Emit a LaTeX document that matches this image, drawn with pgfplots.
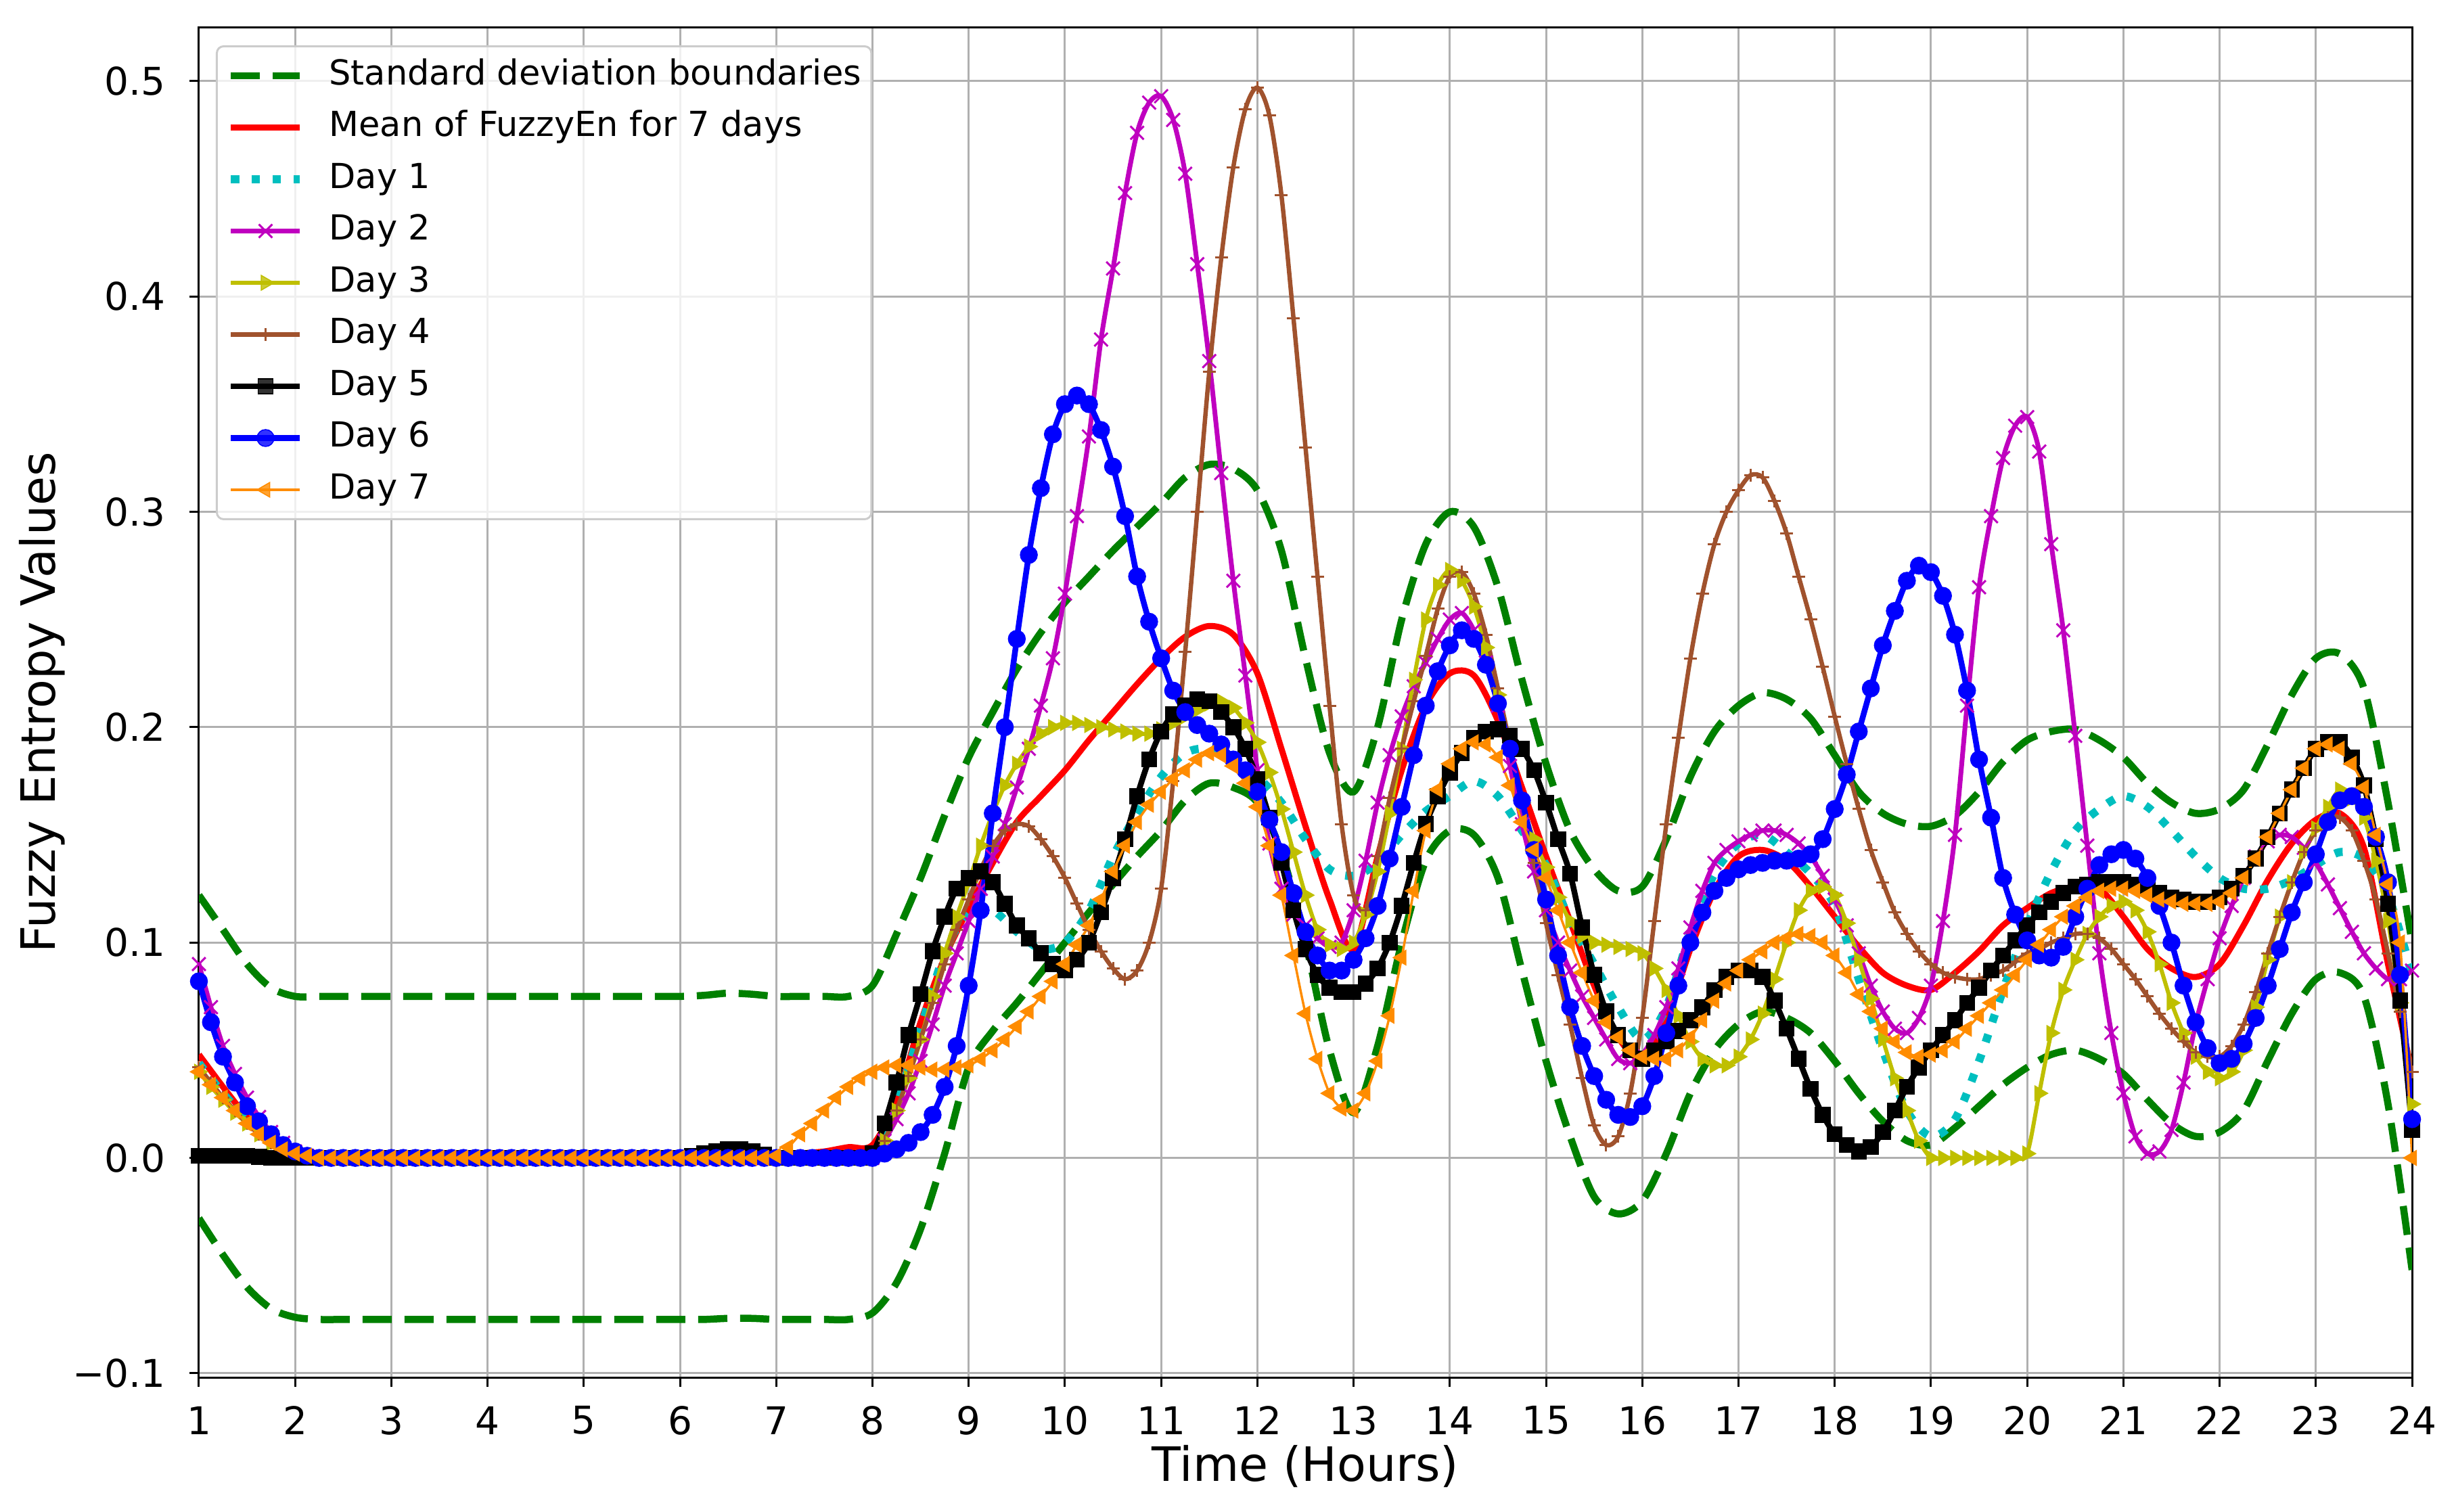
\documentclass[border=0pt]{standalone}
\usepackage{fontspec}
\setmainfont{DejaVu Sans}
\usepackage{pgfplots}
\pgfplotsset{compat=1.18}
\usepackage{pgfplotstable}
\definecolor{mplgreen}{rgb}{0,0.5,0}
\definecolor{mplcyan}{rgb}{0,0.75,0.75}
\definecolor{mplmag}{rgb}{0.75,0,0.75}
\definecolor{mplyel}{rgb}{0.75,0.75,0}
\definecolor{sienna}{HTML}{A0522D}
\definecolor{dkorange}{HTML}{FF8C00}
\definecolor{gridgray}{HTML}{B0B0B0}
\definecolor{leggray}{HTML}{CCCCCC}
% line-only series: std boundaries, mean, Day 1
\pgfplotstableread{
h up lo mean d1
1.00 0.122 -0.028 0.048 0.044
1.25 0.106 -0.045 0.033 0.030
1.50 0.090 -0.060 0.019 0.018
1.75 0.079 -0.070 0.008 0.008
2.00 0.075 -0.074 0.002 0.002
2.25 0.075 -0.075 0 0
2.50 0.075 -0.075 0 0
2.75 0.075 -0.075 0 0
3.00 0.075 -0.075 0 0
3.25 0.075 -0.075 0 0
3.50 0.075 -0.075 0 0
3.75 0.075 -0.075 0 0
4.00 0.075 -0.075 0 0
4.25 0.075 -0.075 0 0
4.50 0.075 -0.075 0 0
4.75 0.075 -0.075 0 0
5.00 0.075 -0.075 0 0
5.25 0.075 -0.075 0 0
5.50 0.075 -0.075 0 0
5.75 0.075 -0.075 0 0
6.00 0.075 -0.075 0 0
6.25 0.0755 -0.075 0.0003 0
6.50 0.0765 -0.0745 0.0006 0
6.75 0.076 -0.0745 0.0005 0
7.00 0.075 -0.075 0.0002 0
7.25 0.075 -0.075 0.002 0
7.50 0.075 -0.075 0.003 0
7.75 0.075 -0.075 0.005 0
8.00 0.080 -0.072 0.006 0.002
8.25 0.104 -0.058 0.027 0.025
8.50 0.130 -0.033 0.063 0.060
8.75 0.159 0.002 0.093 0.095
9.00 0.186 0.042 0.116 0.115
9.25 0.207 0.059 0.137 0.115
9.50 0.227 0.072 0.156 0.105
9.75 0.244 0.086 0.168 0.097
10.00 0.258 0.100 0.180 0.100
10.25 0.270 0.114 0.194 0.115
10.50 0.282 0.127 0.207 0.140
10.75 0.293 0.140 0.220 0.160
11.00 0.304 0.152 0.232 0.177
11.25 0.316 0.166 0.242 0.188
11.50 0.322 0.174 0.247 0.190
11.75 0.320 0.172 0.243 0.185
12.00 0.310 0.165 0.225 0.177
12.25 0.282 0.142 0.190 0.165
12.50 0.232 0.100 0.154 0.148
12.75 0.188 0.050 0.120 0.134
13.00 0.170 0.021 0.097 0.131
13.25 0.200 0.052 0.140 0.137
13.50 0.250 0.100 0.180 0.150
13.75 0.285 0.138 0.210 0.161
14.00 0.300 0.152 0.225 0.168
14.25 0.293 0.150 0.224 0.175
14.50 0.265 0.130 0.203 0.168
14.75 0.222 0.087 0.172 0.152
15.00 0.183 0.045 0.140 0.136
15.25 0.152 0.010 0.110 0.110
15.50 0.134 -0.018 0.080 0.090
15.75 0.124 -0.026 0.056 0.070
16.00 0.126 -0.020 0.046 0.055
16.25 0.148 0.002 0.064 0.070
16.50 0.177 0.030 0.097 0.105
16.75 0.198 0.050 0.124 0.132
17.00 0.210 0.062 0.140 0.146
17.25 0.216 0.068 0.143 0.150
17.50 0.213 0.065 0.138 0.142
17.75 0.204 0.058 0.126 0.132
18.00 0.187 0.045 0.112 0.117
18.25 0.170 0.030 0.098 0.083
18.50 0.160 0.017 0.086 0.050
18.75 0.155 0.008 0.080 0.022
19.00 0.154 0.006 0.078 0.010
19.25 0.159 0.014 0.086 0.018
19.50 0.170 0.024 0.096 0.045
19.75 0.184 0.034 0.108 0.078
20.00 0.194 0.042 0.116 0.108
20.25 0.198 0.048 0.123 0.133
20.50 0.199 0.050 0.126 0.152
20.75 0.194 0.046 0.125 0.162
21.00 0.186 0.039 0.112 0.168
21.25 0.174 0.027 0.097 0.163
21.50 0.165 0.016 0.088 0.152
21.75 0.160 0.010 0.084 0.140
22.00 0.162 0.012 0.090 0.130
22.25 0.171 0.022 0.108 0.125
22.50 0.192 0.045 0.129 0.125
22.75 0.215 0.067 0.146 0.129
23.00 0.232 0.083 0.157 0.136
23.25 0.234 0.086 0.160 0.142
23.50 0.218 0.075 0.144 0.139
23.75 0.165 0.025 0.090 0.122
24.00 0.100 -0.052 0.040 0.085
}\data
% marked series: Days 2-7
\pgfplotstableread{
h d2 d3 d4 d5 d6 d7
1.000 0.090 0.040 0.042 0.001 0.082 0.040
1.125 0.070 0.033 0.035 0.001 0.063 0.034
1.250 0.052 0.027 0.028 0.001 0.047 0.028
1.375 0.039 0.021 0.022 0.001 0.035 0.022
1.500 0.028 0.016 0.016 0.001 0.024 0.016
1.625 0.019 0.011 0.011 0.0005 0.017 0.011
1.750 0.012 0.007 0.007 0 0.011 0.007
1.875 0.007 0.004 0.004 0 0.006 0.004
2.000 0.003 0.002 0.002 0 0.003 0.002
2.125 0.001 0.001 0.001 0 0.001 0.001
2.250 0 0 0 0 0 0
2.375 0 0 0 0 0 0
2.500 0 0 0 0 0 0
2.625 0 0 0 0 0 0
2.750 0 0 0 0 0 0
2.875 0 0 0 0 0 0
3.000 0 0 0 0 0 0
3.125 0 0 0 0 0 0
3.250 0 0 0 0 0 0
3.375 0 0 0 0 0 0
3.500 0 0 0 0 0 0
3.625 0 0 0 0 0 0
3.750 0 0 0 0 0 0
3.875 0 0 0 0 0 0
4.000 0 0 0 0 0 0
4.125 0 0 0 0 0 0
4.250 0 0 0 0 0 0
4.375 0 0 0 0 0 0
4.500 0 0 0 0 0 0
4.625 0 0 0 0 0 0
4.750 0 0 0 0 0 0
4.875 0 0 0 0 0 0
5.000 0 0 0 0 0 0
5.125 0 0 0 0 0 0
5.250 0 0 0 0 0 0
5.375 0 0 0 0 0 0
5.500 0 0 0 0 0 0
5.625 0 0 0 0 0 0
5.750 0 0 0 0 0 0
5.875 0 0 0 0 0 0
6.000 0 0 0 0 0 0
6.125 0 0 0 0.001 0 0
6.250 0 0 0 0.002 0 0
6.375 0 0 0 0.003 0 0
6.500 0 0 0 0.004 0 0
6.625 0 0 0 0.004 0 0
6.750 0 0 0 0.003 0 0
6.875 0 0 0 0.0015 0 0
7.000 0 0 0 0 0 0.001
7.125 0 0 0 0 0 0.005
7.250 0 0 0 0 0 0.011
7.375 0 0 0 0 0 0.016
7.500 0 0 0 0 0 0.022
7.625 0 0 0 0 0 0.028
7.750 0 0 0 0 0 0.033
7.875 0 0 0 0 0 0.037
8.000 0 0 0 0.002 0 0.040
8.125 0.008 0.008 0.008 0.016 0.002 0.042
8.250 0.018 0.022 0.022 0.035 0.004 0.043
8.375 0.030 0.037 0.038 0.057 0.007 0.043
8.500 0.045 0.055 0.055 0.076 0.012 0.042
8.625 0.062 0.075 0.072 0.096 0.020 0.041
8.750 0.080 0.095 0.090 0.112 0.033 0.041
8.875 0.095 0.112 0.106 0.125 0.052 0.042
9.000 0.110 0.128 0.120 0.130 0.080 0.043
9.125 0.125 0.145 0.134 0.133 0.115 0.046
9.250 0.140 0.160 0.145 0.128 0.160 0.050
9.375 0.155 0.173 0.152 0.118 0.200 0.055
9.500 0.172 0.183 0.155 0.108 0.241 0.061
9.625 0.190 0.191 0.154 0.102 0.280 0.068
9.750 0.210 0.197 0.148 0.095 0.311 0.075
9.875 0.232 0.200 0.140 0.090 0.336 0.082
10.000 0.262 0.202 0.130 0.087 0.350 0.090
10.125 0.298 0.202 0.118 0.092 0.354 0.099
10.250 0.335 0.201 0.106 0.100 0.350 0.108
10.375 0.380 0.200 0.096 0.114 0.338 0.120
10.500 0.413 0.199 0.088 0.130 0.321 0.133
10.625 0.448 0.198 0.083 0.148 0.298 0.145
10.750 0.476 0.197 0.087 0.168 0.270 0.156
10.875 0.490 0.197 0.100 0.185 0.249 0.164
11.000 0.493 0.199 0.125 0.198 0.232 0.170
11.125 0.482 0.202 0.175 0.206 0.217 0.176
11.250 0.457 0.205 0.235 0.210 0.207 0.180
11.375 0.415 0.208 0.300 0.213 0.201 0.185
11.500 0.370 0.211 0.365 0.212 0.197 0.188
11.625 0.318 0.212 0.418 0.207 0.192 0.187
11.750 0.268 0.209 0.460 0.200 0.185 0.182
11.875 0.224 0.202 0.487 0.190 0.180 0.174
12.000 0.180 0.193 0.497 0.176 0.170 0.163
12.125 0.146 0.179 0.484 0.158 0.157 0.145
12.250 0.125 0.162 0.447 0.137 0.142 0.122
12.375 0.113 0.142 0.390 0.115 0.123 0.094
12.500 0.108 0.122 0.330 0.097 0.105 0.067
12.625 0.102 0.106 0.270 0.085 0.094 0.046
12.750 0.098 0.099 0.210 0.079 0.087 0.030
12.875 0.100 0.097 0.155 0.077 0.087 0.023
13.000 0.115 0.100 0.122 0.077 0.092 0.022
13.125 0.138 0.113 0.115 0.081 0.102 0.030
13.250 0.165 0.133 0.140 0.088 0.117 0.045
13.375 0.187 0.160 0.167 0.100 0.139 0.066
13.500 0.205 0.190 0.190 0.117 0.163 0.093
13.625 0.219 0.222 0.212 0.137 0.187 0.124
13.750 0.230 0.250 0.233 0.155 0.210 0.152
13.875 0.241 0.266 0.255 0.168 0.226 0.171
14.000 0.250 0.273 0.270 0.179 0.238 0.183
14.125 0.253 0.268 0.272 0.188 0.245 0.190
14.250 0.245 0.256 0.262 0.195 0.241 0.193
14.375 0.230 0.237 0.243 0.198 0.229 0.192
14.500 0.210 0.215 0.218 0.199 0.211 0.186
14.625 0.182 0.190 0.192 0.196 0.190 0.173
14.750 0.155 0.165 0.165 0.190 0.166 0.156
14.875 0.133 0.148 0.137 0.180 0.143 0.143
15.000 0.115 0.135 0.109 0.165 0.120 0.130
15.125 0.100 0.121 0.085 0.148 0.094 0.115
15.250 0.087 0.110 0.062 0.132 0.070 0.100
15.375 0.075 0.103 0.037 0.107 0.052 0.086
15.500 0.065 0.100 0.015 0.085 0.038 0.073
15.625 0.055 0.099 0.006 0.068 0.027 0.063
15.750 0.046 0.098 0.010 0.057 0.020 0.056
15.875 0.044 0.097 0.030 0.050 0.019 0.050
16.000 0.048 0.095 0.065 0.046 0.024 0.047
16.125 0.057 0.088 0.110 0.050 0.038 0.046
16.250 0.070 0.078 0.155 0.054 0.058 0.046
16.375 0.088 0.066 0.195 0.059 0.080 0.050
16.500 0.107 0.054 0.232 0.064 0.100 0.056
16.625 0.124 0.046 0.262 0.070 0.114 0.064
16.750 0.137 0.043 0.285 0.078 0.124 0.073
16.875 0.143 0.043 0.300 0.084 0.130 0.081
17.000 0.147 0.047 0.310 0.087 0.134 0.087
17.125 0.150 0.055 0.317 0.087 0.136 0.092
17.250 0.152 0.067 0.316 0.084 0.137 0.096
17.375 0.152 0.083 0.305 0.073 0.138 0.100
17.500 0.150 0.100 0.290 0.060 0.138 0.102
17.625 0.146 0.115 0.270 0.046 0.139 0.104
17.750 0.140 0.124 0.250 0.032 0.141 0.103
17.875 0.131 0.126 0.228 0.020 0.148 0.100
18.000 0.120 0.122 0.205 0.011 0.162 0.094
18.125 0.108 0.109 0.183 0.006 0.178 0.086
18.250 0.095 0.092 0.162 0.003 0.198 0.076
18.375 0.080 0.074 0.143 0.005 0.218 0.068
18.500 0.068 0.055 0.128 0.012 0.238 0.060
18.625 0.060 0.037 0.114 0.022 0.254 0.054
18.750 0.058 0.022 0.104 0.033 0.268 0.049
18.875 0.065 0.008 0.096 0.042 0.275 0.047
19.000 0.080 0.000 0.090 0.050 0.272 0.048
19.125 0.110 0.000 0.086 0.057 0.261 0.050
19.250 0.150 0.000 0.084 0.064 0.243 0.054
19.375 0.210 0.000 0.083 0.072 0.217 0.060
19.500 0.265 0.000 0.083 0.079 0.185 0.066
19.625 0.298 0.000 0.085 0.087 0.158 0.072
19.750 0.325 0.000 0.087 0.094 0.130 0.078
19.875 0.340 0.000 0.091 0.101 0.113 0.085
20.000 0.344 0.002 0.095 0.108 0.101 0.092
20.125 0.328 0.030 0.097 0.114 0.094 0.099
20.250 0.285 0.058 0.100 0.119 0.093 0.106
20.375 0.245 0.078 0.102 0.123 0.098 0.112
20.500 0.196 0.092 0.104 0.126 0.112 0.117
20.625 0.145 0.104 0.104 0.127 0.125 0.121
20.750 0.095 0.112 0.102 0.128 0.136 0.124
20.875 0.058 0.117 0.097 0.128 0.141 0.125
21.000 0.030 0.119 0.090 0.128 0.143 0.125
21.125 0.010 0.115 0.083 0.127 0.139 0.124
21.250 0.002 0.105 0.075 0.125 0.130 0.122
21.375 0.003 0.090 0.067 0.123 0.117 0.120
21.500 0.013 0.072 0.060 0.121 0.100 0.119
21.625 0.035 0.058 0.054 0.120 0.080 0.118
21.750 0.062 0.047 0.049 0.119 0.063 0.118
21.875 0.083 0.040 0.047 0.119 0.051 0.118
22.000 0.102 0.037 0.047 0.121 0.044 0.119
22.125 0.117 0.040 0.052 0.125 0.046 0.123
22.250 0.130 0.050 0.062 0.131 0.053 0.130
22.375 0.140 0.070 0.077 0.139 0.065 0.139
22.500 0.147 0.092 0.095 0.149 0.080 0.149
22.625 0.150 0.112 0.112 0.160 0.097 0.160
22.750 0.149 0.128 0.128 0.171 0.114 0.171
22.875 0.144 0.142 0.142 0.181 0.128 0.181
23.000 0.137 0.153 0.152 0.190 0.141 0.190
23.125 0.127 0.163 0.158 0.193 0.156 0.192
23.250 0.116 0.171 0.158 0.193 0.166 0.190
23.375 0.105 0.167 0.152 0.186 0.168 0.183
23.500 0.095 0.158 0.138 0.173 0.163 0.172
23.625 0.088 0.138 0.120 0.148 0.149 0.150
23.750 0.083 0.110 0.095 0.118 0.128 0.127
23.875 0.083 0.072 0.068 0.073 0.085 0.100
24.000 0.087 0.025 0.040 0.013 0.018 0.000
}\mk
\begin{document}
\begin{tikzpicture}
\begin{axis}[
  name=ax,
  scale only axis,
  width=654.2pt, height=399pt,
  xmin=1, xmax=24, ymin=-0.1019, ymax=0.5248,
  xtick={1,...,24},
  ytick={-0.1,0,0.1,0.2,0.3,0.4,0.5},
  yticklabels={−0.1,0.0,0.1,0.2,0.3,0.4,0.5},
  /pgf/number format/assume math mode=true,
  grid=major,
  major grid style={color=gridgray, line width=0.6pt},
  axis line style={line width=0.6pt},
  tick align=outside, tick pos=left,
  major tick length=2.7pt,
  tick style={black, line width=0.6pt},
  ticklabel style={font=\fontsize{11.3}{13}\selectfont},
  xticklabel style={anchor=center, inner sep=0pt, yshift=-10pt},
  yticklabel style={anchor=east, inner sep=0pt, xshift=-7pt},
  xlabel={Time (Hours)}, ylabel={Fuzzy Entropy Values},
  label style={font=\fontsize{14}{16}\selectfont},
  xlabel style={at={(axis description cs:0.5,-0.0657)}, anchor=center},
  ylabel style={at={(axis description cs:-0.0709,0.5)}, anchor=center},
  legend cell align=left,
  legend style={at={(axis description cs:0,1)}, anchor=north west, xshift=5pt, yshift=-5.2pt,
    draw=leggray, line width=0.6pt, rounded corners=2pt, fill=white, fill opacity=0.8, text opacity=1,
    font=\fontsize{10.2}{12}\selectfont, inner xsep=3pt, inner ysep=3.8pt, row sep=5.5pt,
    nodes={inner sep=0pt, text height=7.6pt, text depth=2.2pt}},
  /tikz/every odd column/.append style={column sep=7.4pt},
  legend image code/.code={%
    \draw[mark repeat=2,mark phase=2,#1] plot coordinates {(0pt,0pt) (10.2pt,0pt) (20.4pt,0pt)};},
]
\addplot[mplgreen, line width=2.1pt, dash pattern=on 8.6pt off 3.8pt, smooth] table[x=h,y=up]{\data};
\addlegendentry{Standard deviation boundaries}
\addplot[mplgreen, line width=2.1pt, dash pattern=on 8.6pt off 3.8pt, smooth, forget plot] table[x=h,y=lo]{\data};
\addplot[red, line width=1.8pt, smooth] table[x=h,y=mean]{\data};
\addlegendentry{Mean of FuzzyEn for 7 days}
\addplot[mplcyan, line width=2.4pt, dash pattern=on 2.4pt off 3.8pt, smooth] table[x=h,y=d1]{\data};
\addlegendentry{Day 1}
\addplot[mplmag, line width=1.4pt, smooth, mark=x, mark size=2.8pt, mark options={line width=0.6pt}] table[x=h,y=d2]{\mk};
\addlegendentry{Day 2}
\addplot[mplyel, line width=1.2pt, smooth, mark=triangle*, mark size=2.5pt, mark options={rotate=-90, line width=0.3pt}] table[x=h,y=d3]{\mk};
\addlegendentry{Day 3}
\addplot[sienna, line width=1.3pt, smooth, mark=+, mark size=1.9pt, mark options={line width=0.6pt}] table[x=h,y=d4]{\mk};
\addlegendentry{Day 4}
\addplot[black, line width=1.7pt, smooth, mark=square*, mark size=2.2pt, mark options={line width=0.3pt}] table[x=h,y=d5]{\mk};
\addlegendentry{Day 5}
\addplot[blue, line width=1.7pt, smooth, mark=*, mark size=2.5pt, mark options={line width=0.3pt}] table[x=h,y=d6]{\mk};
\addlegendentry{Day 6}
\addplot[dkorange, line width=0.7pt, smooth, mark=triangle*, mark size=2.5pt, mark options={rotate=90, line width=0.3pt}] table[x=h,y=d7]{\mk};
\addlegendentry{Day 7}
\end{axis}
\pgfresetboundingbox
\path[use as bounding box] ([xshift=-58.8pt,yshift=-39.8pt]ax.south west) rectangle ([xshift=12.4pt,yshift=8.2pt]ax.north east);
\end{tikzpicture}
\end{document}
